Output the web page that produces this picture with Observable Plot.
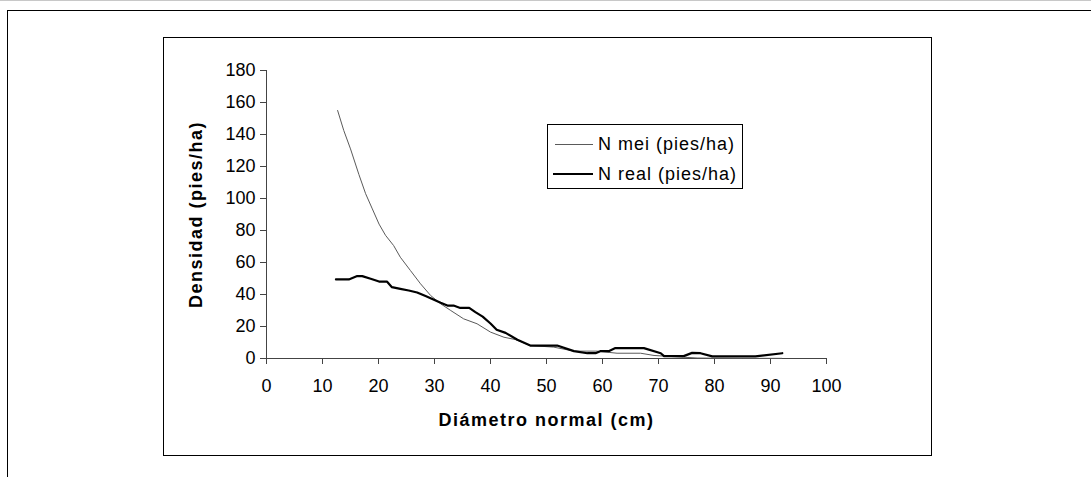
<!DOCTYPE html>
<html>
<head>
<meta charset="utf-8">
<script src="https://cdn.jsdelivr.net/npm/d3@7"></script>
<script src="https://cdn.jsdelivr.net/npm/@observablehq/plot@0.6"></script>
<style>
  html, body { margin: 0; padding: 0; background: white; }
  #wrap { position: relative; width: 1091px; height: 477px; overflow: hidden; font-family: "Liberation Sans", Arial, sans-serif; }
  #wrap svg { position: absolute; left: 0; top: 0; }
  .abs { position: absolute; box-sizing: border-box; }
</style>
</head>
<body>
<div id="wrap"></div>
<script>
// Data
const diamMei = [12.7, 13.8, 15, 16.5, 17.7, 18.9, 20.1, 21.25, 22.7, 23.9, 25.7, 27.5, 29.3, 31.1, 32.9, 35.2, 37.6, 40, 42.4, 44.5, 47.1, 51.3, 54.9, 59, 62.6, 66.8, 69.2, 71, 74.5, 76.9, 80, 85, 92];
const nMei = [155, 142.5, 131, 115, 103, 93.5, 84, 77, 70.6, 63.3, 55, 46.7, 39.4, 34.2, 30, 24.8, 21.7, 16.5, 13.3, 11.8, 8.1, 7.1, 4.6, 4.6, 3.3, 3.3, 1.9, 1.5, 0.8, 0.3, 0.2, 0.1, 0.1];

const diamReal = [12.4, 14.7, 16.2, 17.1, 18.6, 20.1, 21.5, 22.4, 23.9, 25.4, 26.9, 28.4, 29.9, 31.1, 32.3, 33.4, 34.6, 36.2, 37.3, 38.6, 40, 41.1, 42.7, 44.8, 47.1, 51.9, 54.9, 57.3, 58.75, 59.6, 61.1, 62.3, 67.4, 70.4, 71, 74.5, 76, 77.5, 79.6, 87.3, 92.1];
const nReal = [49.4, 49.4, 51.5, 51.5, 49.8, 48.1, 48.1, 44.6, 43.5, 42.5, 41.25, 39, 36.7, 34.8, 33.1, 33.1, 31.6, 31.6, 29, 26.2, 21.9, 18, 16, 11.7, 8.1, 8.1, 4.6, 3.3, 3.3, 4.6, 4.6, 6.5, 6.5, 3.3, 1.5, 1.5, 3.5, 3.3, 1.3, 1.3, 3.3];

const xTicks = [0, 10, 20, 30, 40, 50, 60, 70, 80, 90, 100];
const yTicks = [0, 20, 40, 60, 80, 100, 120, 140, 160, 180];
const seriesNames = ["N mei (pies/ha)", "N real (pies/ha)"];
const xTitle = "Diámetro normal (cm)";
const yTitle = "Densidad (pies/ha)";

const mei = diamMei.map((d, i) => ({x: d, y: nMei[i]}));
const real = diamReal.map((d, i) => ({x: d, y: nReal[i]}));

const axisColor = "#444";

const chart = Plot.plot({
  width: 1091,
  height: 477,
  marginLeft: 266,
  marginRight: 265,
  marginTop: 70,
  marginBottom: 119,
  style: {fontFamily: "'Liberation Sans', Arial, sans-serif", fontSize: "18px", background: "transparent", color: "black"},
  x: {domain: [0, 100]},
  y: {domain: [0, 180]},
  marks: [
    Plot.axisX({ticks: xTicks, tickSize: 6, tickPadding: 15, stroke: axisColor, fill: "black", label: null, tickFormat: d => String(d)}),
    Plot.axisY({ticks: yTicks, tickSize: 6, tickPadding: 5, stroke: axisColor, fill: "black", label: null, tickFormat: d => String(d)}),
    Plot.ruleY([0], {stroke: axisColor, strokeWidth: 1}),
    Plot.ruleX([0], {stroke: axisColor, strokeWidth: 1}),
    Plot.line(mei, {x: "x", y: "y", stroke: "#5a5a5a", strokeWidth: 1}),
    Plot.line(real, {x: "x", y: "y", stroke: "black", strokeWidth: 2.2}),
    Plot.text([xTitle], {frameAnchor: "bottom", dy: 62, textAnchor: "middle", lineAnchor: "middle", fontWeight: "bold", fontSize: 18, fill: "black"}),
    Plot.text([yTitle], {frameAnchor: "left", dx: -70, textAnchor: "middle", lineAnchor: "middle", rotate: -90, fontWeight: "bold", fontSize: 18, fill: "black"})
  ]
});

chart.querySelectorAll("text").forEach(t => {
  if (t.textContent === xTitle || t.textContent === yTitle) t.style.letterSpacing = "1.5px";
});

const wrap = document.getElementById("wrap");
wrap.appendChild(chart);

function addDiv(css, html) {
  const d = document.createElement("div");
  d.className = "abs";
  Object.assign(d.style, css);
  if (html) d.innerHTML = html;
  wrap.appendChild(d);
  return d;
}
// faint top line
addDiv({left: "0px", top: "0px", width: "1091px", height: "1px", background: "#c8c8c8"});
// outer frame (top and left)
addDiv({left: "7px", top: "10px", width: "1100px", height: "480px", borderTop: "1.5px solid black", borderLeft: "1.5px solid black"});
// inner chart box
addDiv({left: "163px", top: "37px", width: "769px", height: "419px", border: "1.5px solid black"});
// legend
const leg = addDiv({left: "547px", top: "124px", width: "196px", height: "65px", border: "1px solid black", background: "white"});
const rows = [
  {y: 19, x1: 7, x2: 45, color: "#5a5a5a", w: 1, label: seriesNames[0]},
  {y: 49, x1: 5, x2: 45, color: "black", w: 2, label: seriesNames[1]}
];
rows.forEach(r => {
  const ln = document.createElement("div");
  ln.className = "abs";
  Object.assign(ln.style, {left: r.x1 + "px", top: (r.y - r.w / 2) + "px", width: (r.x2 - r.x1) + "px", height: r.w + "px", background: r.color});
  leg.appendChild(ln);
  const tx = document.createElement("div");
  tx.className = "abs";
  Object.assign(tx.style, {left: "50px", top: (r.y - 11) + "px", fontSize: "18px", lineHeight: "22px", letterSpacing: "1px", whiteSpace: "nowrap", color: "black"});
  tx.textContent = r.label;
  leg.appendChild(tx);
});
</script>
</body>
</html>
